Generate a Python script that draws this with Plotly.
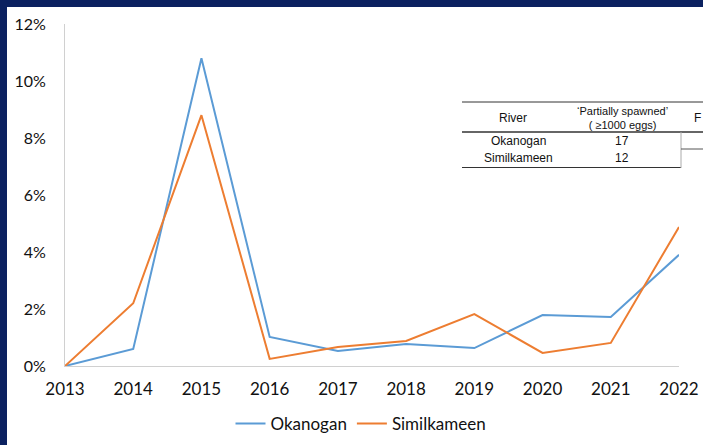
import plotly.graph_objects as go

years = [2013, 2014, 2015, 2016, 2017, 2018, 2019, 2020, 2021, 2022]
okanogan = [0.0, 0.6, 10.8, 1.02, 0.53, 0.77, 0.63, 1.79, 1.72, 3.9]
similkameen = [0.0, 2.2, 8.8, 0.25, 0.67, 0.88, 1.82, 0.46, 0.81, 4.88]
y_ticks = [0, 2, 4, 6, 8, 10, 12]
y_tick_labels = ["0%", "2%", "4%", "6%", "8%", "10%", "12%"]

table_rivers = ["Okanogan", "Similkameen"]
table_partial = ["17", "12"]

W, H = 703, 445
L, R, T, B = 65, 24, 24, 79
pw, ph = W - L - R, H - T - B

def px(x):
    return (x - L) / pw

def py(y):
    return (H - B - y) / ph

fig = go.Figure()
fig.add_trace(go.Scatter(x=years, y=okanogan, mode="lines", name="Okanogan",
                         line=dict(color="#5B9BD5", width=2)))
fig.add_trace(go.Scatter(x=years, y=similkameen, mode="lines", name="Similkameen",
                         line=dict(color="#ED7D31", width=2)))

font_main = "Lato, Open Sans, sans-serif"
shapes = [
    dict(type="rect", xref="paper", yref="paper", x0=px(0), x1=px(W), y0=py(7), y1=py(0),
         fillcolor="#0B2160", line=dict(width=0), layer="above"),
    dict(type="rect", xref="paper", yref="paper", x0=px(0), x1=px(7), y0=py(H), y1=py(0),
         fillcolor="#0B2160", line=dict(width=0), layer="above"),
    dict(type="line", xref="paper", yref="paper", x0=px(462), x1=px(W), y0=py(102), y1=py(102),
         line=dict(color="#333333", width=1)),
    dict(type="line", xref="paper", yref="paper", x0=px(462), x1=px(W), y0=py(132), y1=py(132),
         line=dict(color="#333333", width=1.5)),
    dict(type="line", xref="paper", yref="paper", x0=px(462), x1=px(681), y0=py(167.5), y1=py(167.5),
         line=dict(color="#333333", width=1)),
    dict(type="line", xref="paper", yref="paper", x0=px(681), x1=px(681), y0=py(132), y1=py(168),
         line=dict(color="#AAAAAA", width=1)),
    dict(type="line", xref="paper", yref="paper", x0=px(681), x1=px(W), y0=py(149), y1=py(149),
         line=dict(color="#555555", width=1)),
]

annotations = []
hfont = dict(family="Liberation Sans, Arial, sans-serif", size=11, color="#111111")
tfont = dict(family="Liberation Sans, Arial, sans-serif", size=12, color="#111111")
annotations.append(dict(text="River", x=px(513), y=py(118), xref="paper", yref="paper",
                        showarrow=False, font=tfont, xanchor="center", yanchor="middle"))
annotations.append(dict(text="‘Partially spawned’<br>( ≥1000 eggs)", x=px(622), y=py(118),
                        xref="paper", yref="paper", showarrow=False, font=hfont,
                        xanchor="center", yanchor="middle"))
annotations.append(dict(text="F", x=px(692), y=py(118), xref="paper", yref="paper",
                        showarrow=False, font=tfont, xanchor="left", yanchor="middle"))
for i, (r, v) in enumerate(zip(table_rivers, table_partial)):
    yy = 141 + i * 17
    annotations.append(dict(text=r, x=px(518), y=py(yy), xref="paper", yref="paper",
                            showarrow=False, font=tfont, xanchor="center", yanchor="middle"))
    annotations.append(dict(text=v, x=px(622), y=py(yy), xref="paper", yref="paper",
                            showarrow=False, font=tfont, xanchor="center", yanchor="middle"))

fig.update_layout(
    width=W, height=H,
    margin=dict(l=L, r=R, t=T, b=B, autoexpand=False),
    paper_bgcolor="white", plot_bgcolor="white",
    font=dict(family=font_main, size=17, color="#111111"),
    showlegend=True,
    legend=dict(orientation="h", x=px(361), xanchor="center", y=py(424), yanchor="middle",
                font=dict(family=font_main, size=17, color="#111111"),
                itemwidth=30, tracegroupgap=0),
    shapes=shapes,
    annotations=annotations,
    xaxis=dict(range=[2013, 2022], tickmode="array", tickvals=years,
               ticktext=[str(y) for y in years], showgrid=False, zeroline=False,
               showline=True, linecolor="#D0D0D0", linewidth=1, ticks="",
               ticklabelstandoff=8, automargin=False),
    yaxis=dict(range=[0, 12], tickmode="array", tickvals=y_ticks, ticktext=y_tick_labels,
               showgrid=False, zeroline=False, showline=True, linecolor="#D0D0D0",
               linewidth=1, ticks="", ticklabelstandoff=15, automargin=False,
               tickfont=dict(size=16)),
)

fig.write_html("out.html", config={"displayModeBar": False},
               post_script="document.body.style.margin='0';document.body.style.padding='0';")
